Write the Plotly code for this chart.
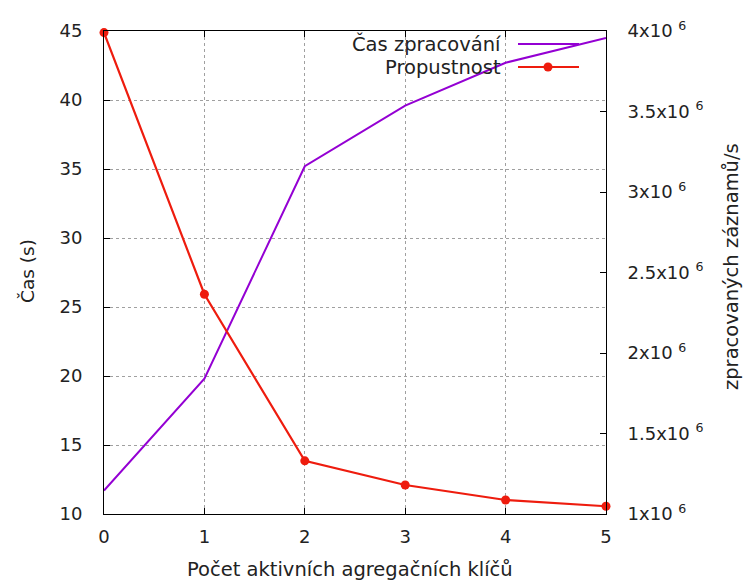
import plotly.graph_objects as go

keys = [0, 1, 2, 3, 4, 5]
cas = [11.7, 19.8, 35.2, 39.6, 42.7, 44.5]
propustnost = [3.99e6, 2.365e6, 1.33e6, 1.18e6, 1.087e6, 1.048e6]

y2_vals = [1e6, 1.5e6, 2e6, 2.5e6, 3e6, 3.5e6, 4e6]
y2_text = ["1x10\u00a0<sup>6</sup>", "1.5x10\u00a0<sup>6</sup>", "2x10\u00a0<sup>6</sup>",
           "2.5x10\u00a0<sup>6</sup>", "3x10\u00a0<sup>6</sup>", "3.5x10\u00a0<sup>6</sup>",
           "4x10\u00a0<sup>6</sup>"]

FONT = "DejaVu Sans"
TXT = "#222222"
TICKF = dict(family=FONT, size=18, color=TXT)
XTITF = dict(family=FONT, size=19.5, color=TXT)
Y1TITF = dict(family=FONT, size=18.5, color=TXT)
Y2TITF = dict(family=FONT, size=19.5, color=TXT)
LEGF = dict(family=FONT, size=19.5, color=TXT)

W, H = 744, 581
L, R, T, B = 104, 606, 31, 514
PW, PH = R - L, B - T


def px(xp):
    return (xp - L) / PW


def py(yp):
    return (B - yp) / PH


fig = go.Figure()
fig.add_trace(go.Scatter(x=keys, y=cas, mode="lines", name="Čas zpracování",
                         line=dict(color="#9400d3", width=2), yaxis="y"))
fig.add_trace(go.Scatter(x=keys, y=propustnost, mode="lines+markers", name="Propustnost",
                         line=dict(color="#ee1c0e", width=2.2), cliponaxis=False,
                         marker=dict(symbol="circle", size=9, color="#ee1c0e"), yaxis="y2"))

# legend (gnuplot style: text right-aligned, sample to the right)
leg = [("Čas zpracování", "#9400d3", False), ("Propustnost", "#ee1c0e", True)]
for i, (name, col, mk) in enumerate(leg):
    yp = py(44 + 23 * i)
    fig.add_annotation(xref="paper", yref="paper", x=px(503), y=yp, text=name,
                       showarrow=False, xanchor="right", yanchor="middle", font=LEGF)
    fig.add_shape(type="line", xref="paper", yref="paper",
                  x0=px(518), x1=px(579), y0=yp, y1=yp, line=dict(color=col, width=2))
    if mk:
        fig.add_trace(go.Scatter(x=[px(548)], y=[yp], xaxis="x2", yaxis="y3",
                                 mode="markers", marker=dict(size=9, color=col),
                                 showlegend=False, hoverinfo="skip"))

# axis titles (gnuplot placement)
fig.add_annotation(xref="paper", yref="paper", x=px(350), y=py(569),
                   text="Počet aktivních agregačních klíčů", showarrow=False,
                   xanchor="center", yanchor="middle", font=XTITF)
fig.add_annotation(xref="paper", yref="paper", x=px(27), y=py(271), text="Čas (s)",
                   showarrow=False, textangle=-90, xanchor="center", yanchor="middle", font=Y1TITF)
fig.add_annotation(xref="paper", yref="paper", x=px(731), y=py(267),
                   text="zpracovaných záznamů/s", showarrow=False, textangle=-90,
                   xanchor="center", yanchor="middle", font=Y2TITF)

fig.update_layout(
    width=W, height=H,
    margin=dict(l=L, r=W - R, t=T, b=H - B, autoexpand=False),
    plot_bgcolor="white", paper_bgcolor="white",
    showlegend=False,
    font=dict(family=FONT, size=17, color=TXT),
    xaxis=dict(range=[0, 5], tickvals=keys, ticks="inside", ticklen=6, tickcolor="black",
               showline=True, linecolor="black", linewidth=1, mirror="ticks",
               showgrid=True, gridcolor="#a0a0a0", griddash="dot", gridwidth=1,
               zeroline=False, automargin=False, tickfont=TICKF, ticklabelstandoff=6),
    yaxis=dict(range=[10, 45], tickvals=[10, 15, 20, 25, 30, 35, 40, 45], ticks="inside",
               ticklen=6, tickcolor="black", showline=True, linecolor="black", linewidth=1,
               showgrid=True, gridcolor="#a0a0a0", griddash="dot", gridwidth=1,
               zeroline=False, automargin=False, tickfont=TICKF, ticklabelstandoff=17),
    yaxis2=dict(range=[1e6, 4e6], overlaying="y", side="right", tickvals=y2_vals,
                ticktext=y2_text, ticks="inside", ticklen=6, tickcolor="black",
                showline=True, linecolor="black", linewidth=1, showgrid=False, zeroline=False,
                automargin=False, tickfont=TICKF, ticklabelstandoff=17),
    xaxis2=dict(range=[0, 1], overlaying="x", visible=False),
    yaxis3=dict(range=[0, 1], overlaying="y", visible=False),
)

fig.write_html("out.html", config={"displayModeBar": False},
               post_script="document.body.style.margin='0';document.body.style.padding='0';")
